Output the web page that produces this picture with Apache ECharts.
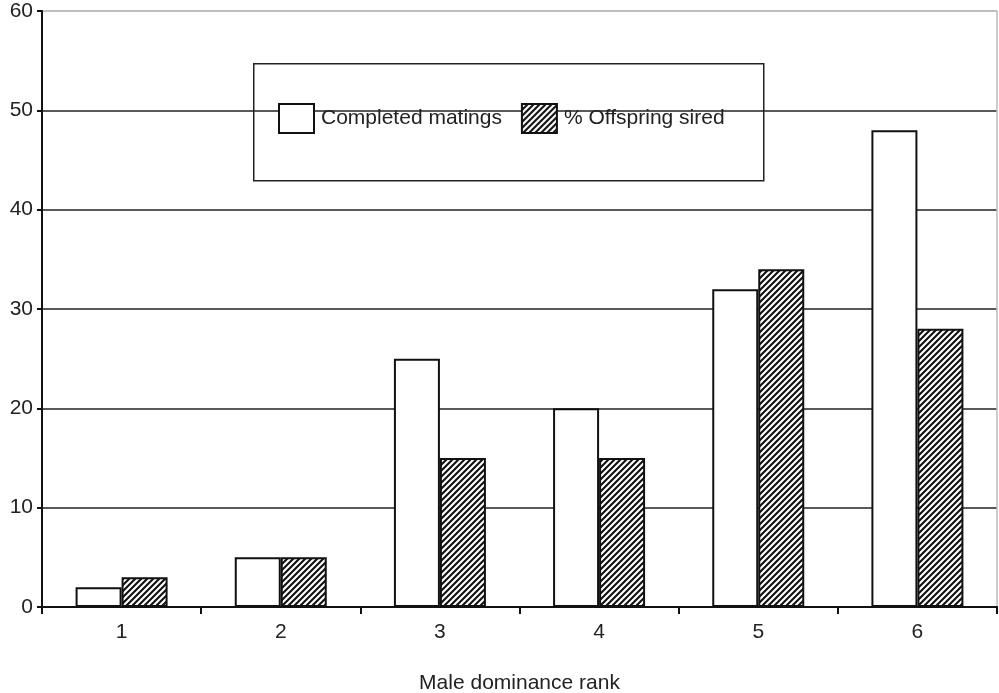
<!DOCTYPE html>
<html><head><meta charset="utf-8">
<script src="https://cdn.jsdelivr.net/npm/echarts@6/dist/echarts.min.js"></script>
<style>html,body{margin:0;padding:0;background:#fff}#c{width:999px;height:693px}</style>
</head><body><div id="c"></div>
<script>
const categories = ['1','2','3','4','5','6'];
const completedMatings = [2, 5, 25, 20, 32, 48];
const offspringSired = [3, 5, 15, 15, 34, 28];
const seriesNames = ['Completed matings', '% Offspring sired'];
const xAxisTitle = 'Male dominance rank';

function hatch() {
  const s = 6;
  const c = document.createElement('canvas');
  c.width = s; c.height = s;
  const g = c.getContext('2d');
  g.fillStyle = '#fff'; g.fillRect(0,0,s,s);
  g.strokeStyle = '#111'; g.lineWidth = 2.1;
  g.beginPath();
  g.moveTo(-1, s+1); g.lineTo(s+1, -1);
  g.moveTo(-2, 2); g.lineTo(2, -2);
  g.moveTo(s-2, s+2); g.lineTo(s+2, s-2);
  g.stroke();
  return c;
}
const pat = {image: hatch(), repeat: 'repeat'};
const font = 'Liberation Sans, Arial, sans-serif';

const chart = echarts.init(document.getElementById('c'), null, {renderer: 'canvas'});
chart.setOption({
  animation: false,
  backgroundColor: '#fff',
  textStyle: {fontFamily: font},
  grid: {left: 42, right: 2, top: 11, bottom: 86, outerBoundsMode: 'none', containLabel: false},
  legend: {
    left: 278, top: 103, padding: 0, itemGap: 19,
    itemWidth: 35, itemHeight: 29, icon: 'rect',
    textStyle: {fontSize: 21, color: '#222', fontFamily: font, padding: [0,0,0,2]},
    data: seriesNames
  },
  graphic: [{
    type: 'rect', left: 253, top: 63, z: 0,
    shape: {width: 510, height: 117},
    style: {fill: '#fff', stroke: '#222', lineWidth: 1.5}
  }],
  xAxis: {
    type: 'category', data: categories,
    name: xAxisTitle, nameLocation: 'middle', nameGap: 66,
    nameTextStyle: {fontSize: 21, color: '#222', fontFamily: font},
    axisLine: {lineStyle: {color: '#111', width: 2}},
    axisTick: {show: true, length: 7, lineStyle: {color: '#111', width: 2}},
    axisLabel: {fontSize: 21, color: '#222', margin: 15, fontFamily: font},
    splitLine: {show: false}
  },
  yAxis: [{
    type: 'value', min: 0, max: 60, interval: 10,
    axisLine: {show: true, lineStyle: {color: '#111', width: 2}},
    axisTick: {show: true, length: 5, lineStyle: {color: '#111', width: 2}},
    axisLabel: {fontSize: 21, color: '#222', margin: 9, fontFamily: font},
    splitLine: {show: true, lineStyle: {color: ['#222','#222','#222','#222','#222','#222','#aaa'], width: 1.5}}
  }, {
    type: 'value', min: 0, max: 60, interval: 10, position: 'right',
    axisLine: {show: true, lineStyle: {color: '#bbb', width: 1.5}},
    axisTick: {show: false}, axisLabel: {show: false}, splitLine: {show: false}
  }],
  series: [{
    name: seriesNames[0], type: 'bar', data: completedMatings,
    barWidth: 46, barGap: '0%', z: 3,
    itemStyle: {color: '#fff', borderColor: '#111', borderWidth: 2}
  }, {
    name: seriesNames[1], type: 'bar', data: offspringSired,
    barWidth: 46, barGap: '0%', z: 3,
    itemStyle: {color: pat, borderColor: '#111', borderWidth: 2}
  }]
});
</script></body></html>
